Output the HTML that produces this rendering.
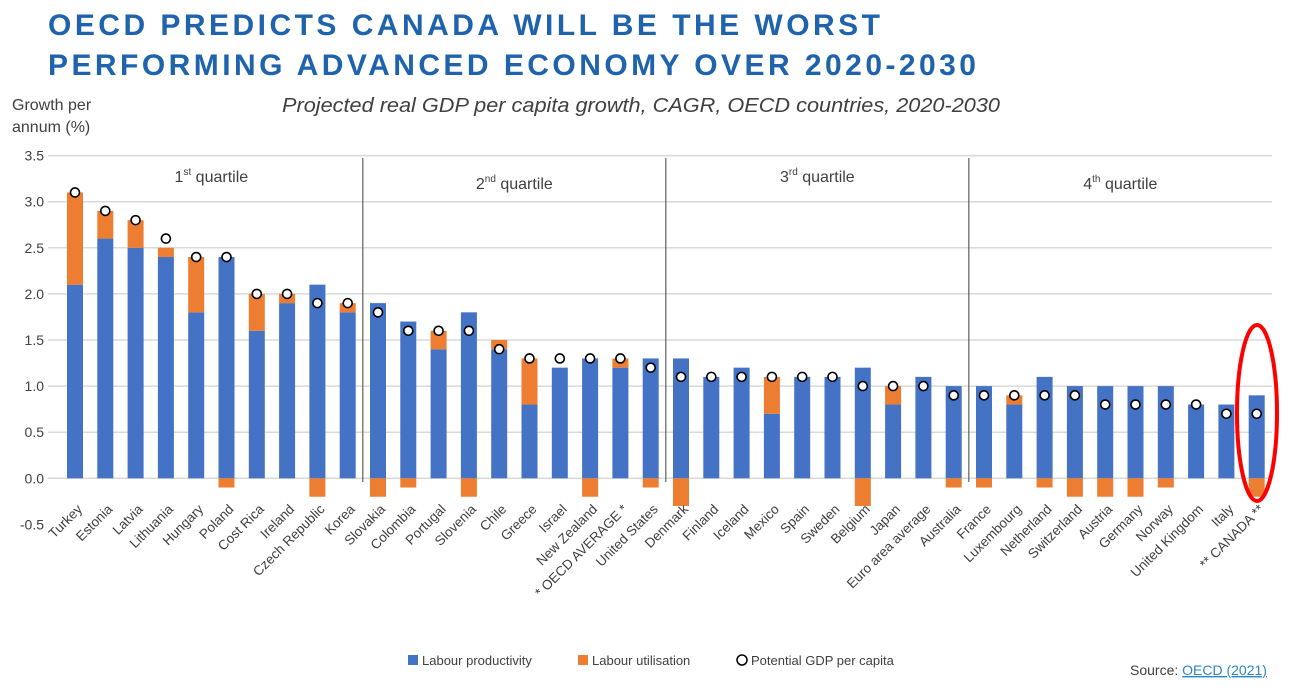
<!DOCTYPE html>
<html><head><meta charset="utf-8"><style>
html,body{margin:0;padding:0;background:#fff}
svg{display:block;font-family:"Liberation Sans",Arial,sans-serif}
</style></head><body>
<svg id="c" width="1292" height="694" viewBox="0 0 1292 694">
<text x="48" y="35" font-size="30" font-weight="bold" fill="#1f63ad" textLength="832" lengthAdjust="spacing">OECD PREDICTS CANADA WILL BE THE WORST</text>
<text x="48" y="75" font-size="30" font-weight="bold" fill="#1f63ad" textLength="928" lengthAdjust="spacing">PERFORMING ADVANCED ECONOMY OVER 2020-2030</text>
<text x="282" y="112" font-size="20" font-style="italic" fill="#404040" textLength="718" lengthAdjust="spacingAndGlyphs">Projected real GDP per capita growth, CAGR, OECD countries, 2020-2030</text>
<text x="12" y="110" font-size="16" fill="#404040"><tspan x="12">Growth per</tspan><tspan x="12" dy="22">annum (%)</tspan></text>
<g id="grid"></g><g id="bars"></g><g id="labels"></g>
<g>
<rect x="408" y="655" width="10" height="10" fill="#4472c4"/>
<text x="422" y="665" font-size="13" fill="#404040">Labour productivity</text>
<rect x="578" y="655" width="10" height="10" fill="#ed7d31"/>
<text x="592" y="665" font-size="13" fill="#404040">Labour utilisation</text>
<circle cx="742" cy="660" r="5" fill="#fff" stroke="#000" stroke-width="1.5"/>
<text x="751" y="665" font-size="13" fill="#404040">Potential GDP per capita</text>
</g>
<text x="1130" y="675" font-size="14" fill="#404040">Source: <tspan fill="#2e86c1" text-decoration="underline">OECD (2021)</tspan></text>
<ellipse cx="1257" cy="413" rx="20" ry="88" fill="none" stroke="#ff0000" stroke-width="4"/>
</svg>
<script>
const countries=["Turkey","Estonia","Latvia","Lithuania","Hungary","Poland","Cost Rica","Ireland","Czech Republic","Korea","Slovakia","Colombia","Portugal","Slovenia","Chile","Greece","Israel","New Zealand","* OECD AVERAGE *","United States","Denmark","Finland","Iceland","Mexico","Spain","Sweden","Belgium","Japan","Euro area average","Australia","France","Luxembourg","Netherland","Switzerland","Austria","Germany","Norway","United Kingdom","Italy","** CANADA **"];
const productivity=[2.1,2.6,2.5,2.4,1.8,2.4,1.6,1.9,2.1,1.8,1.9,1.7,1.4,1.8,1.4,0.8,1.2,1.3,1.2,1.3,1.3,1.1,1.2,0.7,1.1,1.1,1.2,0.8,1.1,1.0,1.0,0.8,1.1,1.0,1.0,1.0,1.0,0.8,0.8,0.9];
const utilisation=[1.0,0.3,0.3,0.1,0.6,-0.1,0.4,0.1,-0.2,0.1,-0.2,-0.1,0.2,-0.2,0.1,0.5,0,-0.2,0.1,-0.1,-0.3,0,0,0.4,0,0,-0.3,0.2,0,-0.1,-0.1,0.1,-0.1,-0.2,-0.2,-0.2,-0.1,0,0,-0.2];
const potential=[3.1,2.9,2.8,2.6,2.4,2.4,2.0,2.0,1.9,1.9,1.8,1.6,1.6,1.6,1.4,1.3,1.3,1.3,1.3,1.2,1.1,1.1,1.1,1.1,1.1,1.1,1.0,1.0,1.0,0.9,0.9,0.9,0.9,0.9,0.8,0.8,0.8,0.8,0.7,0.7];
const yTicks=[-0.5,0,0.5,1.0,1.5,2.0,2.5,3.0,3.5];
const quartiles=["1st","2nd","3rd","4th"];
const NS="http://www.w3.org/2000/svg";
const y=v=>478.3-v*92.2;
const x=i=>75+i*30.3;
function mk(t,a,p){const e=document.createElementNS(NS,t);for(const k in a)e.setAttribute(k,a[k]);p.appendChild(e);return e;}
const grid=document.getElementById('grid'),bars=document.getElementById('bars'),labels=document.getElementById('labels');
yTicks.forEach(v=>{
  if(v>=0){const l=mk('line',{x1:48,x2:1272,y1:y(v),y2:y(v),stroke:'#d9d9d9','stroke-width':1.5},grid);
  
  }
  const t=mk('text',{x:44,y:y(v)+5,'font-size':14,fill:'#404040','text-anchor':'end'},grid);
  t.textContent=v.toFixed(1);
  
  
});
[0,1,2].forEach(q=>{
  const xx=(x(q*10+9)+x(q*10+10))/2;
  const l=mk('line',{x1:xx,x2:xx,y1:158,y2:482,stroke:'#404040','stroke-width':1},grid);
  
  
});
quartiles.forEach((q,k)=>{
  const cx=(x(k*10)+x(k*10+9))/2;
  const t=mk('text',{x:cx,y:k%2?189:182,'font-size':16,fill:'#404040','text-anchor':'middle'},grid);
  const s1=mk('tspan',{},t);s1.textContent=q.slice(0,1);
  const s2=mk('tspan',{'font-size':10,dy:-7},t);s2.textContent=q.slice(1);
  const s3=mk('tspan',{dy:7},t);s3.textContent=' quartile';
  
  
});
countries.forEach((c,i)=>{
  const bx=x(i)-8,w=16;
  const p=productivity[i],u=utilisation[i];
  const r=mk('rect',{x:bx,y:y(p),width:w,height:y(0)-y(p),fill:'#4472c4'},bars);
  
  
  if(u!==0){
    const y0=u>0?y(p+u):y(0), h=Math.abs(y(0)-y(u));
    const r2=mk('rect',{x:bx,y:y0,width:w,height:h,fill:'#ed7d31'},bars);
    
    
  }
  const d=mk('circle',{cx:x(i),cy:y(potential[i]),r:4.5,fill:'#fff',stroke:'#000','stroke-width':1.6},bars);
  
  
  const lx=x(i)+8, ly=510;
  const t=mk('text',{x:lx,y:ly,'font-size':13.5,fill:'#404040','text-anchor':'end',transform:`rotate(-45 ${lx} ${ly})`},labels);
  t.textContent=c;
  
  
});
</script>
</body></html>
